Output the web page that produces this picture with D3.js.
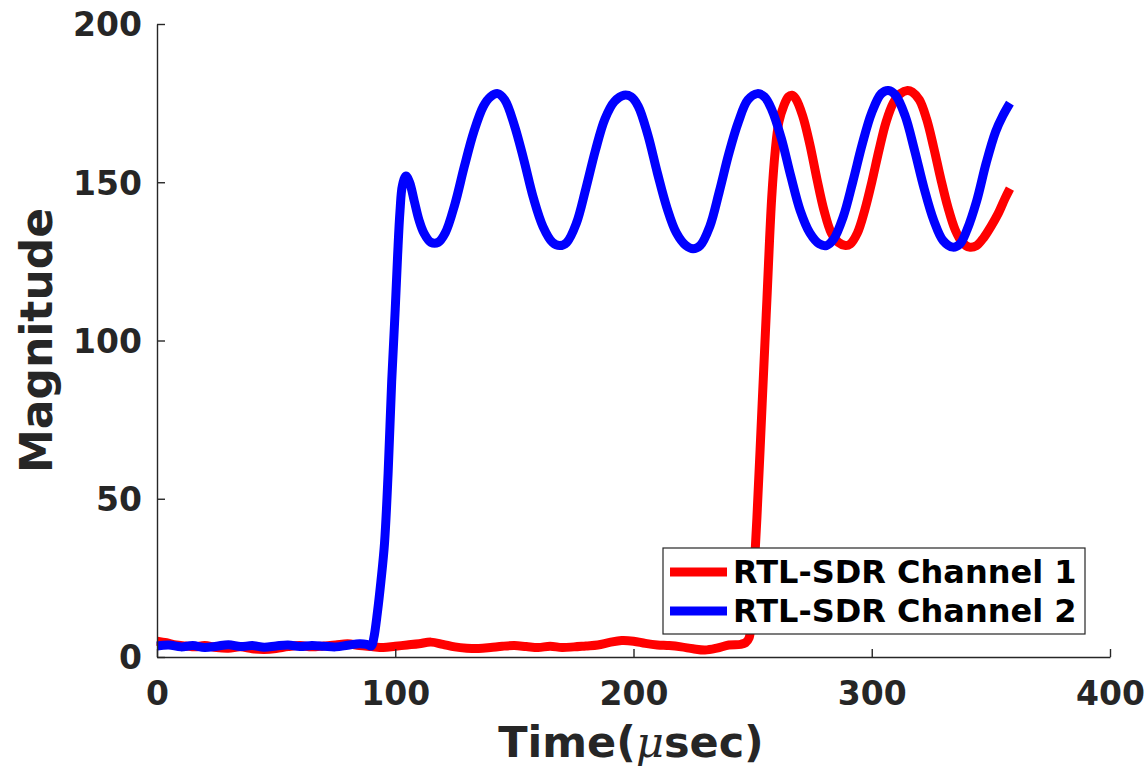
<!DOCTYPE html>
<html>
<head>
<meta charset="utf-8">
<script src="https://cdn.jsdelivr.net/npm/d3@7"></script>
<style>
  body { margin: 0; background: #fff; }
  svg { display: block; }
</style>
</head>
<body>
<div id="chart"></div>
<script>
// time axis in microseconds
const xTicks = [0, 100, 200, 300, 400]
const yTicks = [0, 50, 100, 150, 200]

// RTL-SDR channel 1 (red)
const ch1Time = [0, 4, 8, 12, 16, 20, 25, 30, 35, 40, 45, 50, 55, 60, 65, 70, 75, 80, 85, 90,
  95, 100, 105, 110, 115, 120, 125, 130, 135, 140, 145, 150, 155, 160, 165, 170, 175, 180, 185, 190,
  195, 200, 205, 210, 215, 220, 225, 230, 235, 240, 245, 247, 248.5, 250, 251.8, 254, 256, 258, 259.5, 261,
  263, 265, 266.5, 268, 271, 274, 277, 280, 283, 286, 289, 291, 294, 297, 300, 303, 306, 309, 312, 315,
  317, 320, 323, 326, 329, 332, 335, 338, 341, 344, 347, 350, 353, 356, 358]
const ch1Mag = [5, 4.5, 3.8, 3.5, 3.2, 3.6, 3.0, 2.8, 3.2, 2.6, 2.4, 2.7, 3.3, 3.6, 3.2, 3.5, 3.8, 4.2, 3.6, 3.3,
  3.0, 3.4, 3.8, 4.2, 4.7, 4.0, 3.2, 2.8, 2.7, 3.0, 3.4, 3.6, 3.3, 3.0, 3.4, 3.0, 3.2, 3.5, 3.8, 4.6,
  5.2, 5.0, 4.3, 3.8, 3.6, 3.2, 2.6, 2.2, 2.8, 3.8, 4.0, 4.5, 6, 20, 44, 80, 113, 145, 160, 169,
  174, 177, 177.5, 176.5, 171, 162, 151, 141, 134, 131, 130, 130.5, 134, 141, 150, 160, 169, 175, 178, 179,
  178.5, 176, 170, 161, 151, 142, 135, 131, 129.5, 130, 132.5, 136, 140, 145, 148]

// RTL-SDR channel 2 (blue)
const ch2Time = [0, 5, 10, 15, 20, 25, 30, 35, 40, 45, 50, 55, 60, 65, 70, 75, 80, 85, 88, 90,
  91, 92.5, 94, 95.5, 97, 98.5, 100, 101, 102, 103, 104.5, 106, 108, 110, 112, 115, 118, 121, 125, 129,
  133, 137, 140, 143, 146, 150, 154, 158, 162, 166, 169, 172, 176, 180, 184, 188, 192, 196, 199, 202,
  206, 210, 214, 218, 222, 225, 228, 232, 236, 240, 244, 248, 252, 255, 258, 262, 266, 270, 274, 278,
  281, 284, 288, 292, 296, 300, 304, 307, 310, 314, 318, 322, 326, 330, 334, 337, 340, 344, 348, 352,
  355, 358]
const ch2Mag = [3.5, 3.8, 3.2, 3.6, 3.0, 3.4, 3.9, 3.3, 3.6, 3.1, 3.5, 3.8, 3.3, 3.6, 3.4, 3.2, 3.7, 4.2, 4.0, 3.5,
  6, 14, 24, 36, 58, 87, 110, 127, 141, 149, 152, 150, 144, 138, 134, 131, 131, 134, 143, 155,
  166, 174, 177, 178, 176, 168, 157, 145, 136, 131, 130, 131, 137, 148, 160, 170, 175.5, 177.5, 177, 174,
  165, 153, 142, 134, 130, 129, 130, 136, 147, 159, 169, 176, 178, 177, 173, 164, 152, 141, 134, 130.5,
  130, 132, 139, 150, 162, 172, 178, 179, 177.5, 171, 160, 148, 138, 131.5, 129.5, 130.5, 135, 144, 156, 166,
  171, 175]

const seriesNames = ["RTL-SDR Channel 1", "RTL-SDR Channel 2"]
const seriesColors = ["#ff0000", "#0000ff"]

const width = 1148
const height = 768
const margin = { top: 24, right: 38, bottom: 111, left: 157 }
const axisColor = "#262626"
const font = "'DejaVu Sans', sans-serif"

const svg = d3.select("#chart").append("svg")
  .attr("width", width)
  .attr("height", height)

const x = d3.scaleLinear().domain([0, 400]).range([margin.left, width - margin.right])
const y = d3.scaleLinear().domain([0, 200]).range([height - margin.bottom, margin.top])

const line = d3.line()
  .x(d => x(d[0]))
  .y(d => y(d[1]))
  .curve(d3.curveCatmullRom.alpha(0.5))

const series = [
  ch1Time.map((t, i) => [t, ch1Mag[i]]),
  ch2Time.map((t, i) => [t, ch2Mag[i]])
]

svg.append("g")
  .selectAll("path")
  .data(series)
  .join("path")
    .attr("d", line)
    .attr("fill", "none")
    .attr("stroke", (d, i) => seriesColors[i])
    .attr("stroke-width", 9)
    .attr("stroke-linejoin", "round")

function xAxis(g) {
  g.attr("transform", `translate(0,${y(0)})`)
    .call(d3.axisBottom(x).tickValues(xTicks).tickSizeInner(-8).tickSizeOuter(0).tickPadding(25))
  g.selectAll("text").attr("font-size", "33px")
}

function yAxis(g) {
  g.attr("transform", `translate(${x(0)},0)`)
    .call(d3.axisLeft(y).tickValues(yTicks).tickSizeInner(-8).tickSizeOuter(0).tickPadding(15))
  g.selectAll("text").attr("font-size", "33px").attr("dy", "0.36em")
}

svg.append("g").call(xAxis)
svg.append("g").call(yAxis)

svg.selectAll(".domain, .tick line")
  .attr("stroke", axisColor)
  .attr("stroke-width", 1.4)
svg.selectAll(".tick text")
  .attr("fill", axisColor)
  .attr("font-family", font)
  .attr("font-weight", "bold")

// axis labels
svg.append("text")
  .attr("transform", `translate(52,${(y(0) + y(200)) / 2}) rotate(-90)`)
  .attr("text-anchor", "middle")
  .attr("font-family", font)
  .attr("font-weight", "bold")
  .attr("font-size", "44px")
  .attr("fill", axisColor)
  .text("Magnitude")

const xl = svg.append("text")
  .attr("x", 631)
  .attr("y", 757)
  .attr("text-anchor", "middle")
  .attr("font-family", font)
  .attr("font-weight", "bold")
  .attr("font-size", "43px")
  .attr("fill", axisColor)
xl.append("tspan").text("Time(")
xl.append("tspan")
  .attr("font-family", "'DejaVu Serif', serif")
  .attr("font-style", "italic")
  .attr("font-weight", "normal")
  .text("\u03bc")
xl.append("tspan").text("sec)")

// legend
const legend = svg.append("g").attr("transform", "translate(663,548)")
legend.append("rect")
  .attr("width", 422)
  .attr("height", 86)
  .attr("fill", "#fff")
  .attr("stroke", axisColor)
  .attr("stroke-width", 1.2)

const item = legend.selectAll("g")
  .data(seriesNames)
  .join("g")
    .attr("transform", (d, i) => `translate(0,${24 + i * 39})`)
item.append("line")
  .attr("x1", 7).attr("x2", 64)
  .attr("stroke", (d, i) => seriesColors[i])
  .attr("stroke-width", 9)
item.append("text")
  .attr("x", 70)
  .attr("y", 11)
  .attr("font-family", font)
  .attr("font-weight", "bold")
  .attr("font-size", "32px")
  .attr("fill", "#000")
  .text(d => d)
</script>
</body>
</html>
